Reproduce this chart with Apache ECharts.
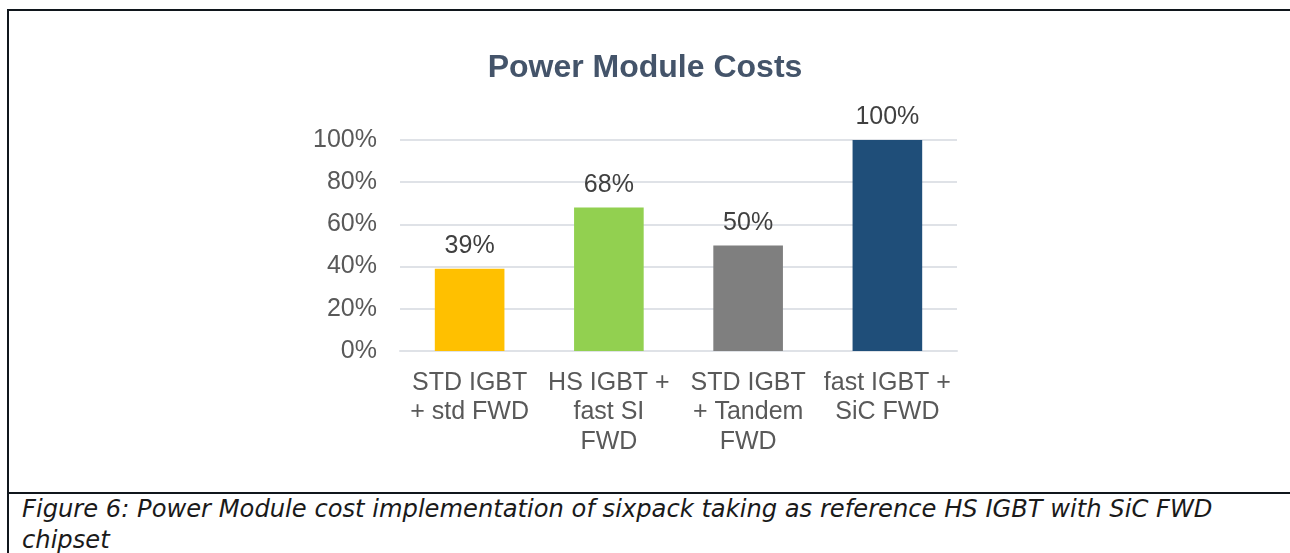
<!DOCTYPE html>
<html>
<head>
	<meta charset="UTF-8">
	<title>Power Module Costs</title>
	<style>
		html,body{margin:0;padding:0;background:#fff;}
		#box{position:absolute;left:7px;top:9px;width:1290px;height:481px;border-top:2px solid #10161c;border-left:2px solid #10161c;border-bottom:2px solid #10161c;}
		#capbox{position:absolute;left:7px;top:492px;width:1290px;height:70px;border-left:2px solid #10161c;}
		#caption{position:absolute;left:22px;top:494px;font-family:"DejaVu Sans",Verdana,sans-serif;font-style:italic;font-size:24.2px;line-height:31px;color:#1a1a1a;white-space:nowrap;}
		#mychart{position:absolute;left:0;top:0;width:1290px;height:553px;}
	</style>
</head>
<body>
	<div id="box"></div>
	<div id="capbox"></div>
	<div id="caption">Figure 6: Power Module cost implementation of sixpack taking as reference HS IGBT with SiC FWD<br>chipset</div>
	<div id="mychart"></div>
<script type="text/javascript" src="https://cdn.jsdelivr.net/npm/echarts@6/dist/echarts.min.js"></script>
<script type="text/javascript">
	var categories = ['STD IGBT\n+ std FWD', 'HS IGBT +\nfast SI\nFWD', 'STD IGBT\n+ Tandem\nFWD', 'fast IGBT +\nSiC FWD'];
	var costs = [39, 68, 50, 100];
	var barColors = ['#ffc000', '#92d050', '#7f7f7f', '#1f4e79'];
	var yTicks = [0, 20, 40, 60, 80, 100];

	var myChart = echarts.init(document.getElementById('mychart'));
	var option = {
		animation: false,
		title: {
			text: 'Power Module Costs',
			left: 'center',
			top: 47,
			textStyle: {
				fontFamily: 'Liberation Sans',
				fontSize: 32,
				fontWeight: 'bold',
				color: '#44546a'
			}
		},
		grid: {
			left: 400,
			right: 333,
			top: 140,
			bottom: 202
		},
		xAxis: {
			type: 'category',
			data: categories,
			axisTick: {show: false},
			axisLine: {
				lineStyle: {color: '#dfe2e7', width: 2}
			},
			axisLabel: {
				margin: 17,
				interval: 0,
				fontFamily: 'Liberation Sans',
				fontSize: 25,
				lineHeight: 29.5,
				color: '#595959'
			}
		},
		yAxis: {
			type: 'value',
			min: yTicks[0],
			max: yTicks[yTicks.length - 1],
			interval: 20,
			axisLine: {show: false},
			axisTick: {show: false},
			splitLine: {
				lineStyle: {color: '#dfe2e7', width: 2}
			},
			axisLabel: {
				margin: 23,
				fontFamily: 'Liberation Sans',
				fontSize: 25,
				color: '#595959',
				formatter: '{value}%'
			}
		},
		series: [{
			type: 'bar',
			barWidth: '50%',
			data: costs.map(function (v, i) {
				return {value: v, itemStyle: {color: barColors[i]}};
			}),
			label: {
				show: true,
				position: 'top',
				distance: 10,
				fontFamily: 'Liberation Sans',
				fontSize: 25,
				color: '#404040',
				formatter: '{c}%'
			}
		}]
	};
	myChart.setOption(option);
	window.onresize = myChart.resize;
</script>
</body>
</html>
